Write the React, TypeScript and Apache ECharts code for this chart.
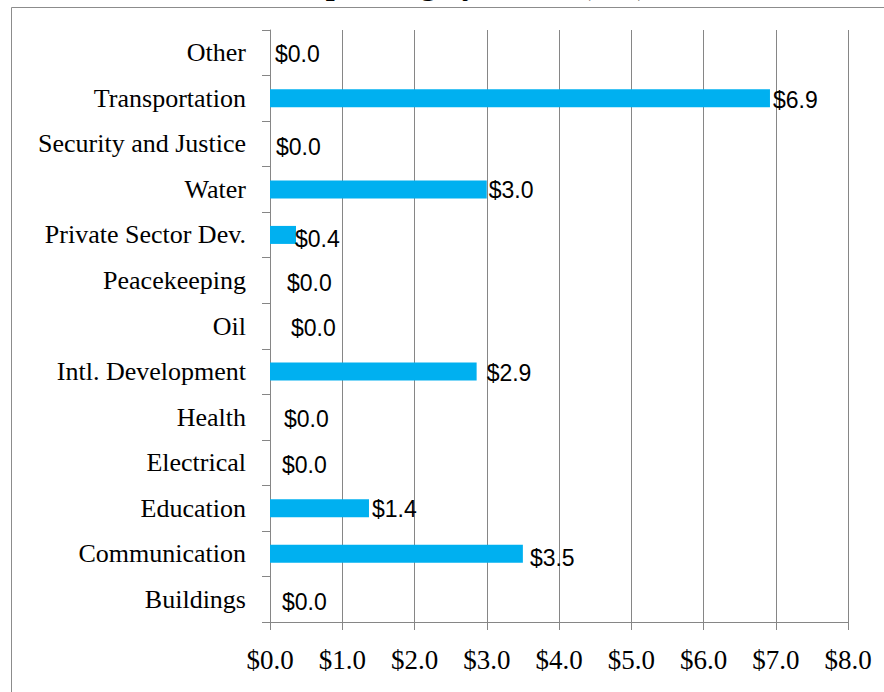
import React, { useEffect, useRef } from "react";
import * as echarts from "echarts";

// Categories listed bottom to top (ECharts category axis order)
const categories = [
  "Buildings",
  "Communication",
  "Education",
  "Electrical",
  "Health",
  "Intl. Development",
  "Oil",
  "Peacekeeping",
  "Private Sector Dev.",
  "Water",
  "Security and Justice",
  "Transportation",
  "Other",
];
const values = [0, 3.5, 1.37, 0, 0, 2.86, 0, 0, 0.36, 3.0, 0, 6.92, 0];
const xTicks = [0, 1, 2, 3, 4, 5, 6, 7, 8];
const titleText = "Spending by Sector ($M)";

// label placement tweaks (style only)
const labelGap = [12, 7, 3, 12, 14, 10, 21, 17, -1, 2, 6, 3, 5];
const labelDy = [3, 4, 1, 2, 2, 1, 2, 3, 4, 1, 3, 2, 1];

const fmt = (v: number) => "$" + v.toFixed(1);

export default function App() {
  const ref = useRef<HTMLDivElement>(null);
  useEffect(() => {
    if (!ref.current) return;
    const chart = echarts.init(ref.current, undefined, { renderer: "svg" });
    const gray = "#868686";
    chart.setOption({
      animation: false,
      backgroundColor: "#ffffff",
      grid: { left: 270, right: 36, top: 30, bottom: 70, containLabel: false },
      xAxis: {
        type: "value",
        min: xTicks[0],
        max: xTicks[xTicks.length - 1],
        interval: 1,
        axisLine: { show: true, lineStyle: { color: gray, width: 1 } },
        axisTick: { show: true, length: 8, lineStyle: { color: gray } },
        splitLine: { show: true, lineStyle: { color: gray, width: 1 } },
        axisLabel: {
          formatter: (v: number) => fmt(v),
          fontFamily: "Liberation Serif",
          fontSize: 27,
          color: "#000",
          margin: 24,
        },
      },
      yAxis: {
        type: "category",
        data: categories,
        axisLine: { show: true, lineStyle: { color: gray, width: 1 } },
        axisTick: { show: true, length: 8, alignWithLabel: false, lineStyle: { color: gray } },
        splitLine: { show: false },
        axisLabel: {
          fontFamily: "Liberation Serif",
          fontSize: 26,
          color: "#000",
          margin: 24,
        },
      },
      series: [
        {
          type: "bar",
          barWidth: 18,
          itemStyle: { color: "#00B0F0" },
          data: values.map((v, i) => ({
            value: v,
            label: { distance: labelGap[i], offset: [0, labelDy[i]] },
          })),
          label: {
            show: true,
            position: "right",
            formatter: (p: any) => fmt(p.value),
            fontFamily: "Liberation Sans",
            fontSize: 23,
            color: "#000",
          },
        },
      ],
      graphic: [
        {
          type: "text",
          x: 478,
          y: -17,
          z: 10,
          style: {
            text: titleText,
            font: "bold 32px 'Liberation Serif'",
            fill: "#000",
            align: "center",
            verticalAlign: "middle",
          },
        },
        {
          type: "rect",
          z: 11,
          shape: { x: 11.5, y: 7.5, width: 900, height: 720 },
          style: { fill: "none", stroke: "#8c8c8c", lineWidth: 1 },
        },
      ],
    });
    return () => chart.dispose();
  }, []);
  return (
    <div
      ref={ref}
      style={{ position: "absolute", left: 0, top: 0, width: 884, height: 692 }}
    />
  );
}
